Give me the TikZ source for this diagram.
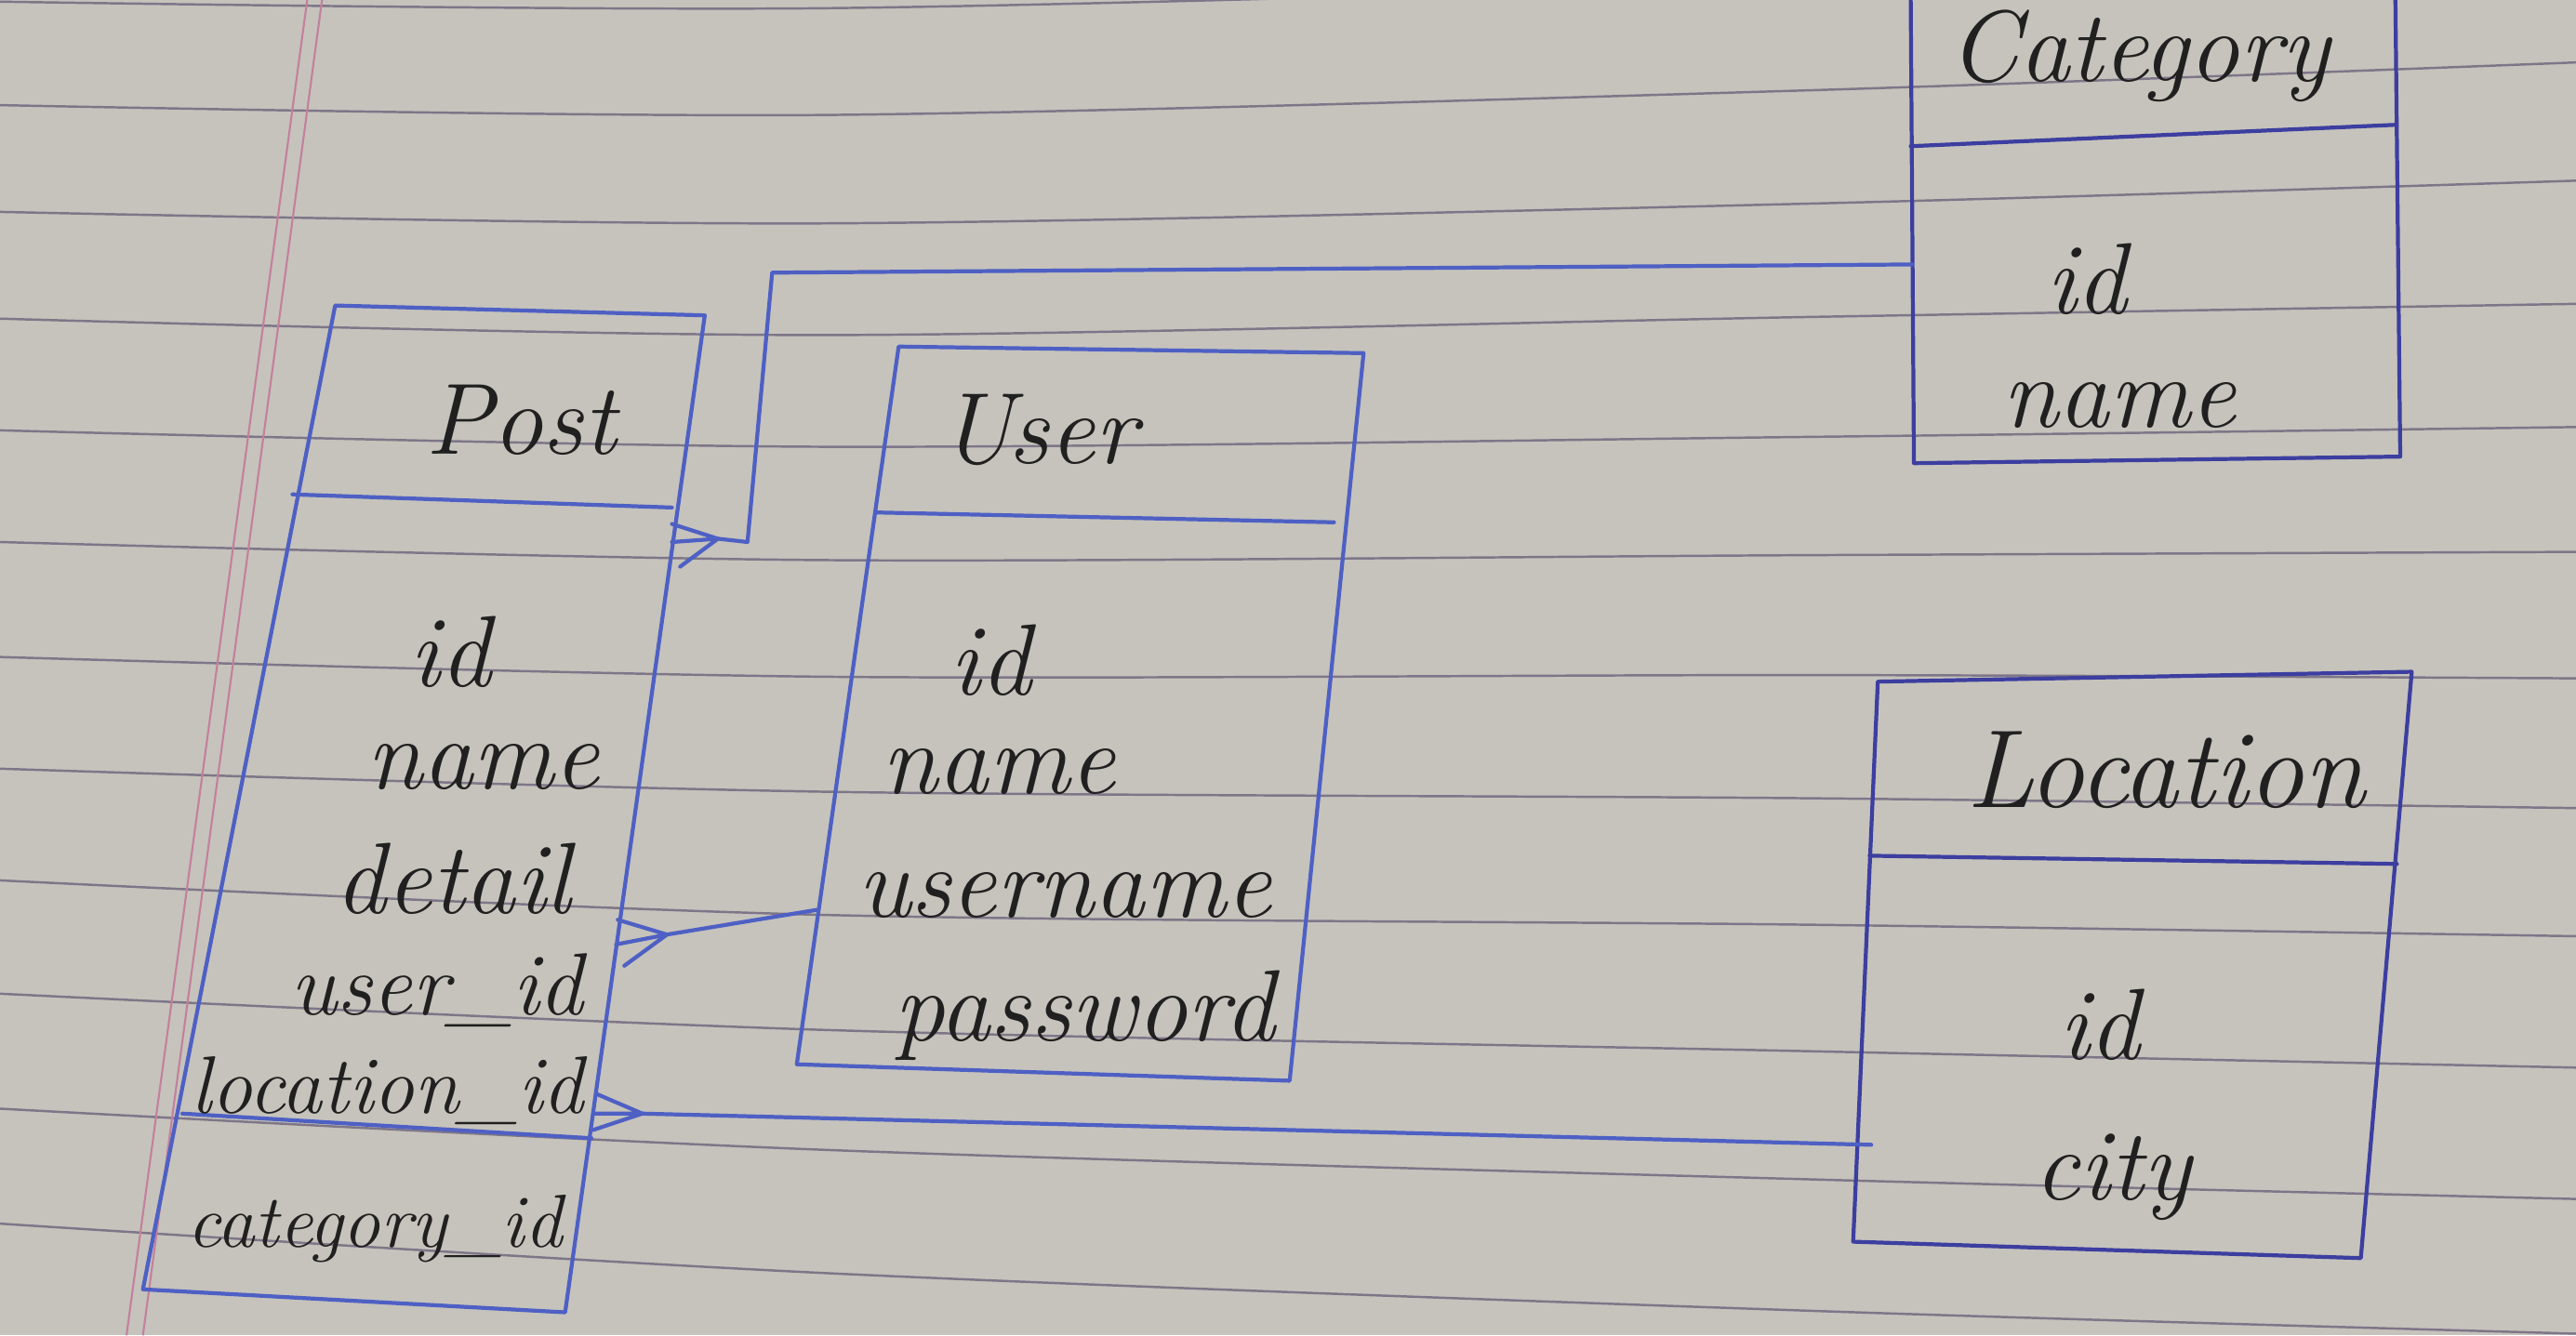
\documentclass[tikz,border=0pt]{standalone}
\usepackage{tikz}

\definecolor{paper}{RGB}{198,195,188}
\definecolor{ruling}{RGB}{126,118,136}
\definecolor{margin}{RGB}{196,128,156}
\definecolor{pen}{RGB}{78,96,196}
\definecolor{pendark}{RGB}{60,62,160}
\definecolor{ink}{RGB}{32,32,32}

\tikzset{
  entity/.style={draw=pen, line width=1.2pt, line join=round, line cap=round},
  entitydark/.style={entity, draw=pendark},
  field/.style={text=ink, inner sep=0pt, font=\fontsize{31}{36}\selectfont\itshape},
  fieldlong/.style={field, font=\fontsize{25}{30}\selectfont\itshape},
}
\tikzset{link/.style={draw=pen, line width=1.2pt, line join=round, line cap=round}}

\begin{document}
\begin{tikzpicture}[x=0.017666cm, y=-0.017666cm]
    \fill[paper] (0,0) rectangle (1568,813);
    \useasboundingbox (0,0) rectangle (1568,813);
    \clip (0,0) rectangle (1568,813);

    % ruled paper
    \foreach \ya/\yb/\yc/\yd in {1/5/-10/-25, 64/70/55/38, 129/136/124/110, 194/204/193/185,
        262/272/266/260, 330/341/338/336, 400/412/411/413, 468/482/486/492,
        536/557/563/570, 605/627/640/650, 675/700/718/730, 745/775/798/812}
        \draw[ruling, line width=0.7pt] plot[smooth] coordinates {(0,\ya) (500,\yb) (1100,\yc) (1568,\yd)};
    \draw[margin, line width=0.6pt] (187,0) -- (77,813);
    \draw[margin, line width=0.6pt] (196,0) -- (87,813);

    % Post
    \coordinate (post-nw) at (204,186);
    \coordinate (post-ne) at (429,192);
    \coordinate (post-se) at (344,799);
    \coordinate (post-sw) at (87,785);
    \draw[entity] (post-nw) -- (post-ne) -- (post-se) -- (post-sw) -- cycle;
    \draw[entity] (178,301) -- (409,309);
    \draw[entity] (111,678) -- (360,693);
    \node[field] (post-title) at (317,256) {Post};
    \node[field] (post-id) at (274,397) {id};
    \node[field] (post-name) at (294,467) {name};
    \node[field] (post-detail) at (276,535) {detail};
    \node[field, font=\fontsize{27}{32}\selectfont\itshape] (post-user) at (266,603) {user\_id};
    \node[fieldlong] (post-location) at (236,664) {location\_id};
    \node[fieldlong, font=\fontsize{23}{28}\selectfont\itshape] (post-category) at (228,748) {category\_id};

    % User
    \coordinate (user-nw) at (547,211);
    \coordinate (user-ne) at (830,215);
    \coordinate (user-se) at (785,658);
    \coordinate (user-sw) at (485,648);
    \draw[entity] (user-nw) -- (user-ne) -- (user-se) -- (user-sw) -- cycle;
    \draw[entity] (533,312) -- (812,318);
    \node[field] (user-title) at (632,262) {User};
    \node[field] (user-id) at (603,402) {id};
    \node[field] (user-name) at (608,470) {name};
    \node[field] (user-username) at (648,545) {username};
    \node[field] (user-password) at (660,618) {password};

    % Category
    \coordinate (cat-nw) at (1163,-5);
    \coordinate (cat-ne) at (1458,-5);
    \coordinate (cat-se) at (1461,278);
    \coordinate (cat-sw) at (1165,282);
    \draw[entitydark] (cat-nw) -- (cat-sw) -- (cat-se) -- (cat-ne);
    \draw[entitydark] (1163,89) -- (1458,76);
    \node[field] (cat-title) at (1302,34) {Category};
    \node[field] (cat-id) at (1270,170) {id};
    \node[field] (cat-name) at (1290,247) {name};

    % Location
    \coordinate (loc-nw) at (1143,415);
    \coordinate (loc-ne) at (1468,409);
    \coordinate (loc-se) at (1437,766);
    \coordinate (loc-sw) at (1128,756);
    \draw[entitydark] (loc-nw) -- (loc-ne) -- (loc-se) -- (loc-sw) -- cycle;
    \draw[entitydark] (1138,521) -- (1459,526);
    \node[field, font=\fontsize{34}{40}\selectfont\itshape] (loc-title) at (1318,469) {Location};
    \node[field] (loc-id) at (1278,624) {id};
    \node[field] (loc-city) at (1286,717) {city};

    % relations, crow's foot on the Post side
    \coordinate (cat-in) at (1164,161);
    \coordinate (cat-tip) at (437,328);
    \draw[link] (cat-in) -- (470,166) -- (455,330) -- (cat-tip);
    \draw[link] (cat-tip) -- ++(-28,-9) (cat-tip) -- ++(-28,2) (cat-tip) -- ++(-23,17);

    \coordinate (user-in) at (497,554);
    \coordinate (user-tip) at (406,569);
    \draw[link] (user-in) -- (user-tip);
    \draw[link] (user-tip) -- ++(-30,-9) (user-tip) -- ++(-31,6) (user-tip) -- ++(-26,19);

    \coordinate (loc-in) at (1139,697);
    \coordinate (loc-tip) at (391,678);
    \draw[link] (loc-in) -- (loc-tip);
    \draw[link] (loc-tip) -- ++(-28,-12) (loc-tip) -- ++(-29,0) (loc-tip) -- ++(-30,10);
\end{tikzpicture}
\end{document}
